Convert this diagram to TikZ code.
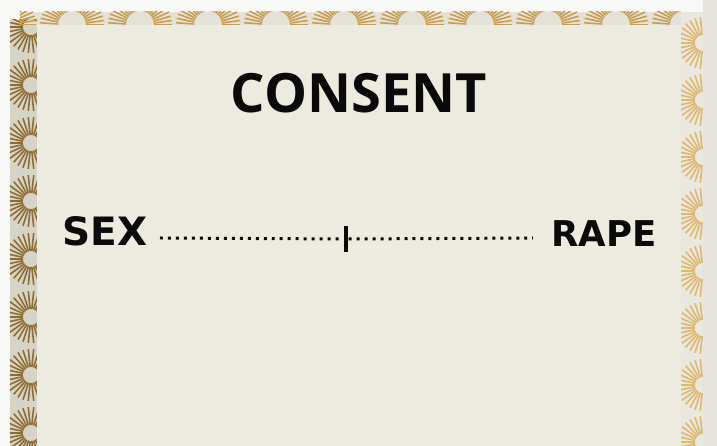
\documentclass[tikz,border=0pt]{standalone}
\usepackage{fontspec}
\newfontfamily\titlefont{Open Sans}
\newfontfamily\wordfont{DejaVu Sans}
\usetikzlibrary{positioning}
\definecolor{paper}{HTML}{EDEAE0}
\definecolor{margin}{HTML}{F8F8F6}
\definecolor{rightmargin}{HTML}{E6E4DC}
\definecolor{leftband}{HTML}{D6D3C7}
\definecolor{topband}{HTML}{E4E1D8}
\definecolor{rightband}{HTML}{EAE7DE}
\definecolor{leftray}{HTML}{8E6C33}
\definecolor{topray}{HTML}{C89E50}
\definecolor{rightray}{HTML}{DDB86E}
\definecolor{ink}{HTML}{0A0A0A}

\begin{document}
\begin{tikzpicture}[x=0.01cm,y=-0.01cm,
title/.style={font=\titlefont\bfseries\fontsize{15.4}{18}\selectfont,text=ink,inner sep=0pt},
endword/.style={font=\wordfont\bfseries,text=ink,inner sep=0pt},
dotline/.style={ink,line width=0.85pt,dash pattern=on 0.85pt off 1.42pt},
tickmark/.style={fill=ink,inner sep=0pt,minimum width=1.1pt,minimum height=0.26cm},
ray/.style={line width=0.45pt}
]
\useasboundingbox (0,0) rectangle (717,446);
\fill[margin] (0,0) rectangle (717,446);
\fill[rightmargin] (703,0) rectangle (717,446);
\fill[leftband] (10,20) rectangle (37,446);
\fill[topband] (20,12) rectangle (703,25);
\fill[rightband] (681,12) rectangle (703,446);

\begin{scope}
\clip (10,20) rectangle (37,446);
\foreach \cy in {27,85,...,491}
  \foreach \a in {0,12,...,348}
    \draw[ray,leftray] (31,\cy) ++(\a:8) -- ++(\a:18);
\end{scope}
\begin{scope}
\clip (20,12) rectangle (681,25);
\foreach \cx in {4,72,...,700}
  \foreach \a in {0,8,...,352}
    \draw[ray,topray] (\cx,25) ++(\a:14) -- ++(\a:18);
\end{scope}
\begin{scope}
\clip (681,12) rectangle (703,446);
\foreach \cy in {43,100,...,500}
  \foreach \a in {0,12,...,348}
    \draw[ray,rightray] (703,\cy) ++(\a:8) -- ++(\a:18);
\end{scope}

\fill[paper] (37,25) rectangle (681,446);

\node[title,anchor=base] (consent) at (359,113) {CONSENT};
\node[endword,font=\wordfont\bfseries\fontsize{11.1}{13}\selectfont,anchor=base west] (sex) at (62,246) {SEX};
\node[endword,font=\wordfont\bfseries\fontsize{10.1}{12}\selectfont,anchor=base east] (rape) at (657,247) {RAPE};

\coordinate (dl) at (160,238);
\coordinate (dr) at (533,238);
\node[tickmark] (mid) at (346,239) {};
\draw[dotline] (dl) -- (mid.west);
\draw[dotline] (mid.east) -- (dr);
\end{tikzpicture}
\end{document}
